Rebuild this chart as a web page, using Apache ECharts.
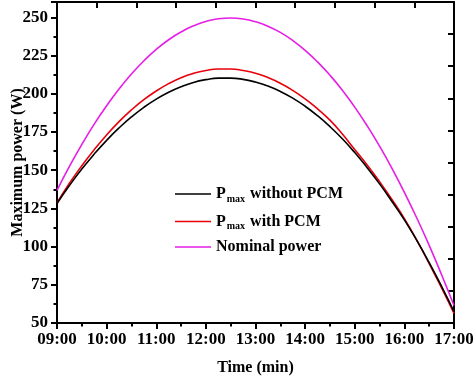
<!DOCTYPE html>
<html>
<head>
<meta charset="utf-8">
<script src="https://cdn.jsdelivr.net/npm/echarts@6/dist/echarts.min.js"></script>
<style>
html,body{margin:0;padding:0;background:#fff;}
#chart{width:474px;height:379px;}
</style>
</head>
<body>
<div id="chart"></div>
<script>
// Time of day (hours), every 15 minutes
const times = [9, 9.25, 9.5, 9.75, 10, 10.25, 10.5, 10.75, 11, 11.25, 11.5, 11.75, 12, 12.25, 12.5, 12.75,
               13, 13.25, 13.5, 13.75, 14, 14.25, 14.5, 14.75, 15, 15.25, 15.5, 15.75, 16, 16.25, 16.5, 16.75, 17];
// Maximum power (W)
const pmaxWithoutPCM = [128.2, 139.9, 150.7, 160.5, 169.5, 177.6, 184.8, 191.1, 196.5, 201.0, 204.6, 207.4, 209.2, 210.2, 210.2, 209.4,
                        207.6, 205.0, 201.5, 197.1, 191.8, 185.6, 178.5, 170.5, 161.5, 151.6, 141.0, 129.5, 117.5, 104.0, 89.5, 74.0, 57.5];
const pmaxWithPCM    = [128.5, 141.4, 152.9, 163.4, 173.0, 181.7, 189.4, 196.1, 201.8, 206.6, 210.5, 213.3, 215.2, 216.2, 216.2, 215.2,
                        213.4, 210.6, 206.9, 202.2, 196.6, 190.1, 182.7, 173.6, 163.5, 153.4, 142.5, 130.8, 118.3, 104.2, 88.8, 73.0, 56.3];
const nominalPower   = [136.8, 152.4, 166.8, 180.1, 192.1, 203.1, 212.9, 221.5, 229.0, 235.3, 240.4, 244.4, 247.3, 249.0, 249.5, 248.9,
                        247.1, 244.2, 240.1, 234.8, 228.4, 220.8, 212.1, 202.3, 191.2, 179.0, 165.7, 151.2, 135.5, 118.7, 100.8, 81.6, 61.4];
const seriesNames = ['{p|P}{s|max}{p| without PCM}', '{p|P}{s|max}{p| with PCM}', '{p|Nominal power}'];
const xTickHours = [9, 10, 11, 12, 13, 14, 15, 16, 17];

const font = "'Liberation Serif', 'Times New Roman', serif";
const pair = arr => times.map((t, i) => [t, arr[i]]);

const chart = echarts.init(document.getElementById('chart'));
const axisLine = { show: true, lineStyle: { color: '#000', width: 2 } };
chart.setOption({
  animation: false,
  backgroundColor: '#fff',
  grid: { left: 57, right: 20, top: 2, bottom: 56, outerBoundsMode: 'none', containLabel: false },
  legend: {
    orient: 'vertical',
    left: 170,
    top: 179,
    itemWidth: 36,
    itemHeight: 14,
    itemGap: 7.5,
    icon: 'path://M0,0 L36,0 L36,1.6 L0,1.6 Z',
    data: [
      { name: seriesNames[0], itemStyle: { color: '#000' } },
      { name: seriesNames[1], itemStyle: { color: '#e8000b' } },
      { name: seriesNames[2], itemStyle: { color: '#e61ee6' } }
    ],
    textStyle: {
      fontFamily: font, fontWeight: 'bold', fontSize: 16, color: '#000',
      rich: {
        p: { fontFamily: font, fontWeight: 'bold', fontSize: 16, color: '#000', lineHeight: 18 },
        s: { fontFamily: font, fontWeight: 'bold', fontSize: 10, color: '#000', padding: [10, 1, 0, 1], lineHeight: 10 }
      }
    }
  },
  xAxis: [
    {
      type: 'value', min: 9, max: 17, interval: 1,
      name: 'Time (min)', nameLocation: 'middle', nameGap: 37,
      nameTextStyle: { fontFamily: font, fontWeight: 'bold', fontSize: 16, color: '#000' },
      axisLine: axisLine,
      axisTick: { show: true, inside: false, length: 6, lineStyle: { color: '#000', width: 2 } },
      minorTick: { show: true, splitNumber: 2, length: 3.5, lineStyle: { color: '#000', width: 2 } },
      splitLine: { show: false },
      axisLabel: {
        fontFamily: font, fontWeight: 'bold', fontSize: 17, color: '#000', margin: 8,
        formatter: v => xTickHours.includes(v) ? (v < 10 ? '0' : '') + v + ':00' : ''
      }
    },
    {
      type: 'value', position: 'top', min: 0, max: 10, interval: 1,
      axisLine: axisLine,
      axisTick: { show: true, inside: true, length: 6, lineStyle: { color: '#000', width: 2 } },
      axisLabel: { show: false }, splitLine: { show: false }
    }
  ],
  yAxis: [
    {
      type: 'value', min: 50, max: 260, interval: 25,
      name: 'Maximum power (W)', nameLocation: 'middle', nameGap: 31, nameMoveOverlap: false,
      nameTextStyle: { fontFamily: font, fontWeight: 'bold', fontSize: 16, color: '#000' },
      axisLine: axisLine,
      axisTick: { show: true, inside: false, length: 6, lineStyle: { color: '#000', width: 2 } },
      minorTick: { show: true, splitNumber: 2, length: 3.5, lineStyle: { color: '#000', width: 2 } },
      splitLine: { show: false },
      axisLabel: {
        fontFamily: font, fontWeight: 'bold', fontSize: 17, color: '#000', margin: 9,
        showMaxLabel: false,
        formatter: v => (v <= 250 ? String(v) : '')
      }
    },
    {
      type: 'value', position: 'right', min: 0, max: 10, interval: 1,
      axisLine: axisLine,
      axisTick: { show: true, inside: true, length: 6, lineStyle: { color: '#000', width: 2 } },
      axisLabel: { show: false }, splitLine: { show: false }
    }
  ],
  series: [
    { name: seriesNames[0], type: 'line', data: pair(pmaxWithoutPCM), smooth: true, showSymbol: false, symbol: 'none',
      lineStyle: { color: '#000', width: 1.6 }, itemStyle: { color: '#000' }, z: 3 },
    { name: seriesNames[1], type: 'line', data: pair(pmaxWithPCM), smooth: true, showSymbol: false, symbol: 'none',
      lineStyle: { color: '#e8000b', width: 1.6 }, itemStyle: { color: '#e8000b' }, z: 2 },
    { name: seriesNames[2], type: 'line', data: pair(nominalPower), smooth: true, showSymbol: false, symbol: 'none',
      lineStyle: { color: '#e61ee6', width: 1.6 }, itemStyle: { color: '#e61ee6' }, z: 2 }
  ]
});
</script>
</body>
</html>
